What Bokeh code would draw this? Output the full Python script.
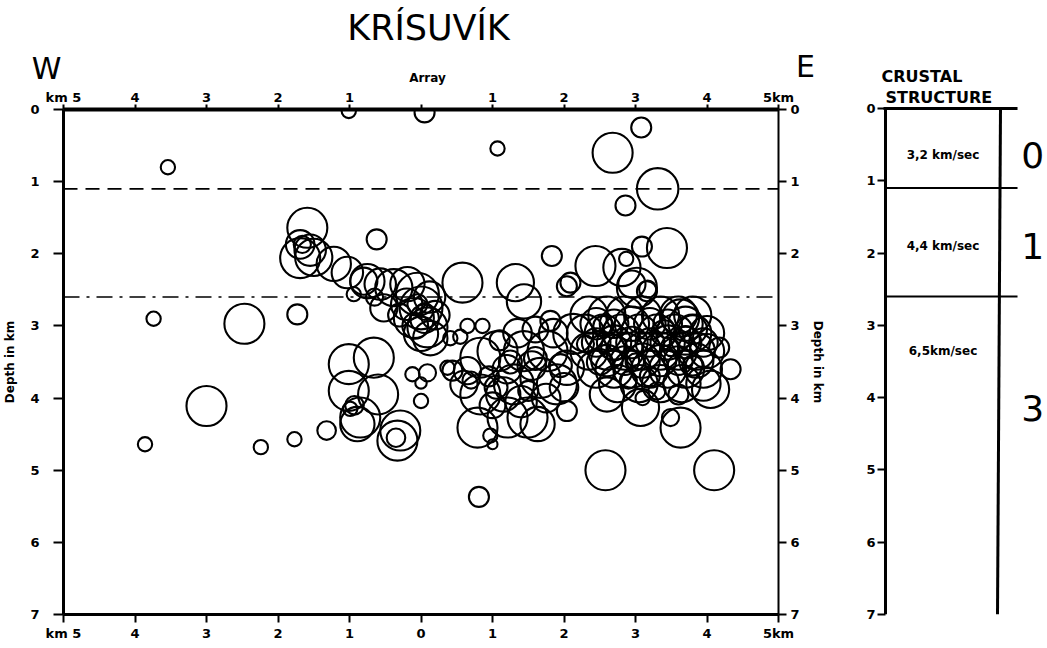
from bokeh.plotting import figure
from bokeh.models import Range1d, FixedTicker, LinearAxis, Label, ColumnDataSource
from bokeh.layouts import row, column
from bokeh.embed import file_html
from bokeh.resources import INLINE

# ---------------- data ----------------
km_ticks = [-5, -4, -3, -2, -1, 0, 1, 2, 3, 4, 5]
bottom_labels = ["km 5", "4", "3", "2", "1", "0", "1", "2", "3", "4", "5km"]
top_labels = ["km 5", "4", "3", "2", "1", "", "1", "2", "3", "4", "5km"]
depth_ticks = [0, 1, 2, 3, 4, 5, 6, 7]

# layer boundaries (km depth) and velocities
layer_bounds = [1.1, 2.6]
layer_velocity = ["3,2 km/sec", "4,4 km/sec", "6,5km/sec"]
velocity_depth = [0.64, 1.9, 3.35]
layer_id = ["0", "1", "3"]
layer_id_depth = [0.65, 1.9, 4.15]

# hypocentres: distance (km, W negative), depth (km), symbol radius (km)
ev_x = [
    -1.01, 0.05, 1.07, -3.54, 3.08, 2.68, 3.31, 2.86, -0.62, 3.44,
    3.09, 2.87, 2.44, 2.81, 1.83, 2.09, 2.95, 3.17, 0.58, 1.32,
    1.44, -3.74, -2.47, -1.73, -3.00, -3.86, -2.24, -1.77, -1.32, 0.81,
    2.58, 4.10, 4.17, 4.33,
    -1.59, -1.69, -1.66, -1.69, -1.55, -1.50, -1.22, -1.03, -0.94, -0.80,
    -0.75, -0.57, -0.38, -0.19, -0.05, 0.00, -0.10, 0.09, 0.00, 0.13,
    -0.52, -0.20, 0.05, -0.08, 0.20, 0.12, -0.30, -0.65, -0.05, 0.05,
    -1.01, -0.66, -1.01, -0.99, -0.89, -0.85, -0.29, -0.33, -0.35, -0.93,
    0.00, -0.12, 0.09, 0.00, -0.60,
    0.65, 0.86, 0.55, 0.41, 0.83, 1.07, 1.44, 1.77, 0.65, 0.44,
    0.60, 0.83, 1.30, 1.67, 1.90, 0.79, 1.21, 1.49, 1.63, 2.04,
    2.13, 2.04, 0.97, 1.00, 1.20, 1.55, 1.35, 1.10, 0.95, 1.50,
    1.75, 1.81, 0.37, 1.15, 1.40, 1.00, 1.85, 1.60, 2.00,
    2.35, 2.60, 2.85, 3.10, 3.35, 3.60, 3.80,
    2.30, 2.55, 2.80, 3.05, 3.30, 3.55, 3.80, 4.00,
    2.35, 2.60, 2.85, 3.10, 3.35, 3.60, 3.85, 4.00,
    2.45, 2.70, 2.95, 3.20, 3.45, 3.70, 3.95,
    2.75, 3.05, 3.35, 3.65, 3.95,
    2.30, 2.55, 3.00, 3.20, 3.50, 3.80, 3.30, 2.90, 3.60, 2.70,
    3.40, 3.70, 2.50,
    2.60, 3.07, 3.49, 3.63, 4.05, 3.10,
    3.02, 3.16, 2.04, 3.63, 3.80,
    2.45, 2.70, 2.95, 3.20, 3.45, 3.70,
    2.45, 2.70, 2.95, 3.20, 3.45, 3.70, 3.95,
    2.60, 2.85, 3.10, 3.35, 3.60, 3.85,
    1.25, 1.60, 1.95, 0.70, 1.05,
]
ev_depth = [
    0.02, 0.04, 0.54, 0.80, 0.25, 0.60, 1.10, 1.33, 1.80, 1.92,
    1.90, 2.07, 2.17, 2.19, 2.03, 2.40, 2.42, 2.49, 2.40, 2.40,
    2.66, 2.90, 2.97, 2.84, 4.11, 4.64, 4.68, 4.57, 4.45, 5.37,
    5.00, 5.00, 3.30, 3.60,
    1.64, 1.87, 1.87, 2.06, 1.95, 2.05, 2.14, 2.26, 2.56, 2.38,
    2.38, 2.42, 2.47, 2.42, 2.56, 2.75, 2.89, 3.02, 3.11, 3.17,
    2.75, 2.70, 2.90, 3.00, 2.85, 2.60, 2.85, 2.60, 2.70, 2.80,
    3.53, 3.44, 3.90, 4.15, 4.36, 4.27, 4.45, 4.59, 4.55, 4.10,
    4.04, 3.67, 3.65, 3.79, 3.95,
    3.00, 3.00, 3.15, 3.17, 3.44, 3.35, 3.35, 3.35, 3.62, 3.62,
    3.81, 3.95, 3.81, 3.72, 3.81, 4.41, 4.27, 4.27, 4.36, 4.18,
    3.11, 3.58, 4.52, 4.64, 3.60, 3.55, 3.10, 3.20, 3.70, 3.90,
    4.00, 2.93, 3.58, 3.95, 4.05, 4.10, 3.10, 3.05, 3.85,
    2.85, 2.85, 2.85, 2.85, 2.85, 2.85, 2.85,
    3.10, 3.10, 3.10, 3.10, 3.10, 3.10, 3.10, 3.10,
    3.35, 3.35, 3.35, 3.35, 3.35, 3.35, 3.35, 3.35,
    3.60, 3.60, 3.60, 3.60, 3.60, 3.60, 3.60,
    3.80, 3.80, 3.80, 3.80, 3.80,
    3.25, 3.00, 3.50, 3.70, 3.30, 3.55, 3.90, 3.75, 3.95, 3.30,
    3.10, 3.20, 3.50,
    3.95, 4.13, 4.27, 4.41, 3.88, 4.00,
    2.47, 2.52, 2.45, 2.89, 3.05,
    2.97, 2.97, 2.97, 2.97, 2.97, 2.97,
    3.23, 3.23, 3.23, 3.23, 3.23, 3.23, 3.23,
    3.48, 3.48, 3.48, 3.48, 3.48, 3.48,
    3.50, 3.45, 3.55, 3.75, 3.85,
]
ev_r = [
    0.10, 0.14, 0.10, 0.10, 0.14, 0.28, 0.29, 0.14, 0.14, 0.28,
    0.14, 0.10, 0.28, 0.26, 0.14, 0.14, 0.19, 0.12, 0.28, 0.26,
    0.24, 0.10, 0.28, 0.14, 0.28, 0.10, 0.10, 0.10, 0.13, 0.14,
    0.28, 0.28, 0.14, 0.14,
    0.28, 0.20, 0.12, 0.28, 0.22, 0.26, 0.24, 0.22, 0.10, 0.19,
    0.24, 0.22, 0.26, 0.24, 0.30, 0.30, 0.28, 0.28, 0.24, 0.24,
    0.19, 0.22, 0.20, 0.18, 0.20, 0.22, 0.16, 0.12, 0.14, 0.12,
    0.28, 0.28, 0.28, 0.10, 0.24, 0.28, 0.28, 0.28, 0.13, 0.13,
    0.10, 0.10, 0.12, 0.08, 0.28,
    0.10, 0.10, 0.10, 0.10, 0.28, 0.28, 0.28, 0.28, 0.19, 0.14,
    0.19, 0.28, 0.28, 0.28, 0.28, 0.28, 0.28, 0.28, 0.24, 0.14,
    0.28, 0.24, 0.10, 0.07, 0.20, 0.20, 0.20, 0.14, 0.14, 0.14,
    0.20, 0.14, 0.10, 0.24, 0.22, 0.18, 0.20, 0.18, 0.20,
    0.26, 0.26, 0.26, 0.26, 0.26, 0.26, 0.26,
    0.26, 0.26, 0.26, 0.26, 0.26, 0.26, 0.26, 0.24,
    0.26, 0.26, 0.26, 0.26, 0.26, 0.26, 0.26, 0.24,
    0.26, 0.26, 0.26, 0.26, 0.26, 0.26, 0.26,
    0.26, 0.26, 0.26, 0.26, 0.24,
    0.12, 0.14, 0.12, 0.14, 0.12, 0.14, 0.12, 0.12, 0.14, 0.18,
    0.18, 0.20, 0.18,
    0.24, 0.26, 0.12, 0.28, 0.26, 0.10,
    0.28, 0.14, 0.14, 0.26, 0.20,
    0.22, 0.20, 0.24, 0.22, 0.20, 0.24,
    0.20, 0.24, 0.22, 0.20, 0.24, 0.22, 0.20,
    0.22, 0.20, 0.24, 0.22, 0.20, 0.24,
    0.16, 0.16, 0.16, 0.12, 0.16,
]

FONT = "DejaVu Sans"


def style_axis(ax, tick_out, standoff):
    ax.ticker = FixedTicker(ticks=depth_ticks)
    ax.axis_line_width = 3
    ax.axis_line_color = "black"
    ax.major_tick_line_width = 2
    ax.major_tick_line_color = "black"
    ax.major_tick_out = tick_out
    ax.major_tick_in = 0
    ax.minor_tick_line_color = None
    ax.major_label_text_font = FONT
    ax.major_label_text_font_style = "bold"
    ax.major_label_text_font_size = "13px"
    ax.major_label_text_color = "black"
    ax.major_label_standoff = standoff
    ax.axis_label_text_font = FONT
    ax.axis_label_text_font_style = "bold"
    ax.axis_label_text_font_size = "12px"
    ax.axis_label_text_color = "black"


def lab(fig, x, y, text, size, style="bold", align="center", baseline="middle"):
    fig.add_layout(Label(x=x, y=y, text=text, text_font=FONT, text_font_size=size,
                         text_font_style=style, text_align=align, text_baseline=baseline,
                         text_color="black"))


# ---------------- header strip (title, compass letters) ----------------
HEAD_H = 86
head = figure(width=1047, height=HEAD_H, x_range=Range1d(0, 1047), y_range=Range1d(HEAD_H, 0),
              output_backend="svg", toolbar_location=None,
              x_axis_location=None, y_axis_location=None,
              min_border_left=0, min_border_right=0,
              min_border_top=0, min_border_bottom=0)
head.outline_line_color = None
head.xgrid.visible = False
head.ygrid.visible = False
lab(head, 428, 27, "KRÍSUVÍK", "35px", style="normal")
lab(head, 46, 68, "W", "30px", style="normal")
lab(head, 805, 66, "E", "30px", style="normal")
lab(head, 427, 77, "Array", "12px")
lab(head, 881, 76, "CRUSTAL", "16px", align="left")

# ---------------- main section ----------------
p = figure(width=850, height=648 - HEAD_H, x_range=Range1d(-5, 5), y_range=Range1d(7, 0),
           output_backend="svg", toolbar_location=None,
           min_border_left=63, min_border_right=72, min_border_top=108 - HEAD_H,
           min_border_bottom=34)
p.outline_line_color = None
p.xgrid.visible = False
p.ygrid.visible = False

left = p.yaxis[0]
style_axis(left, 10, 14)
left.axis_label = "Depth in km"
left.axis_label_standoff = 10

bottom = p.xaxis[0]
style_axis(bottom, 8, 3)
bottom.ticker = FixedTicker(ticks=km_ticks)
bottom.major_label_overrides = {t: l for t, l in zip(km_ticks, bottom_labels)}

right = LinearAxis()
style_axis(right, 8, 4)
right.axis_line_width = 2
right.axis_label = "Depth in km"
right.axis_label_standoff = 8
p.add_layout(right, "right")

top = LinearAxis()
style_axis(top, 5, 0)
top.axis_line_width = 4
top.ticker = FixedTicker(ticks=km_ticks)
top.major_label_overrides = {t: l for t, l in zip(km_ticks, top_labels)}
p.add_layout(top, "above")

p.line(x=[-5, 5], y=[layer_bounds[0], layer_bounds[0]], line_color="black",
       line_width=1.6, line_dash="14 8")
p.line(x=[-5, 5], y=[layer_bounds[1], layer_bounds[1]], line_color="black",
       line_width=1.6, line_dash="16 7 3 7")

src = ColumnDataSource(dict(x=ev_x, depth=ev_depth, r=ev_r))
p.circle(x="x", y="depth", radius="r", source=src, fill_color=None,
         line_color="black", line_width=2.1)

# ---------------- crustal structure column ----------------
# frame: px 883..1047 horizontally, px 86..614 vertically; column x=0 at px 885
C_TOP = -(108 - HEAD_H) / (506 / 7.0)
c = figure(width=197, height=648 - HEAD_H, x_range=Range1d(-2 / 115, 162 / 115),
           y_range=Range1d(7, C_TOP),
           output_backend="svg", toolbar_location=None, x_axis_location=None,
           min_border_left=33, min_border_right=0, min_border_top=0, min_border_bottom=34)
c.outline_line_color = None
c.xgrid.visible = False
c.ygrid.visible = False
cl = c.yaxis[0]
style_axis(cl, 6, 2)
cl.axis_line_color = None
cl.major_tick_in = 2

col_right = [1.0, 0.974]
c.line(x=[0, 0], y=[0, 7], line_color="black", line_width=3)
c.line(x=col_right, y=[0, 7], line_color="black", line_width=3)
c.line(x=[-0.04, 1.148], y=[0, 0], line_color="black", line_width=3)
for b in layer_bounds:
    c.line(x=[0, 1.148], y=[b, b], line_color="black", line_width=2)

for v, d in zip(layer_velocity, velocity_depth):
    lab(c, 0.5, d, v, "12px")
for t, d in zip(layer_id, layer_id_depth):
    lab(c, 1.28, d, t, "36px", style="normal")
lab(c, 0.0, -0.15, "STRUCTURE", "16px", align="left")

layout = column(head, row(column(p), c))
open("out.html", "w").write(file_html(layout, INLINE))
